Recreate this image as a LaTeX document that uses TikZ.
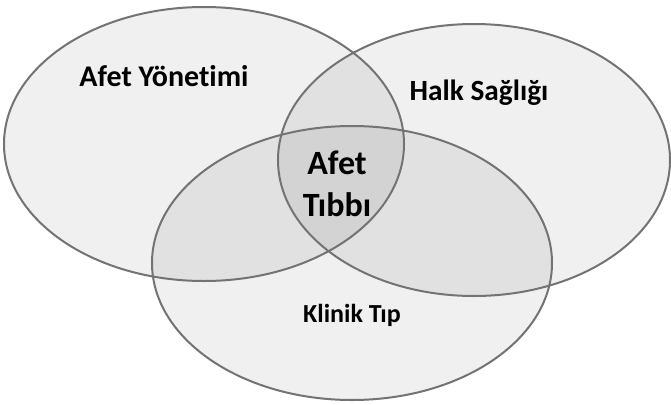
\documentclass[tikz,border=0pt]{standalone}
\usepackage{fontspec}
\setmainfont{Carlito}[Ligatures=NoCommon]
\usetikzlibrary{shapes.geometric}
\begin{document}
\begin{tikzpicture}[x=0.75pt,y=-0.75pt,
  circlefill/.style={ellipse, inner sep=0pt, fill=black, fill opacity=0.06, draw=none},
  circleline/.style={ellipse, inner sep=0pt, draw=gray!90!black, line width=1.5pt, fill=none},
  label/.style={font=\bfseries, text=black, inner sep=0pt, align=center}]
  \useasboundingbox[fill=white] (0,0) rectangle (671,404);
  % shaded discs
  \foreach \n/\cx/\cy/\rx/\ry in {mgmt/204/144/200/137, health/474/160/196/136, clinic/352/263/200/137}{
    \node[circlefill, minimum width=2*\rx*0.75pt, minimum height=2*\ry*0.75pt] at (\cx,\cy) {};
  }
  % outlines
  \node[circleline, minimum width=300pt, minimum height=205.5pt] (mgmt) at (204,144) {};
  \node[circleline, minimum width=294pt, minimum height=204pt] (health) at (474,160) {};
  \node[circleline, minimum width=300pt, minimum height=205.5pt] (clinic) at (352,263) {};
  % labels
  \node[label, font=\bfseries\fontsize{22.5pt}{26pt}\selectfont] (tm) at (164,76) {Afet Yönetimi};
  \node[label, font=\bfseries\fontsize{22pt}{26pt}\selectfont] (th) at (479,93) {Halk Sağlığı};
  \node[label, font=\bfseries\fontsize{25.5pt}{30pt}\selectfont] (tc1) at (337,163) {Afet};
  \node[label, font=\bfseries\fontsize{25.5pt}{30pt}\selectfont] (tc2) at (337,205) {Tıbbı};
  \node[label, font=\bfseries\fontsize{19.5pt}{22pt}\selectfont] (tk) at (352,315) {Klinik Tıp};
\end{tikzpicture}
\end{document}
